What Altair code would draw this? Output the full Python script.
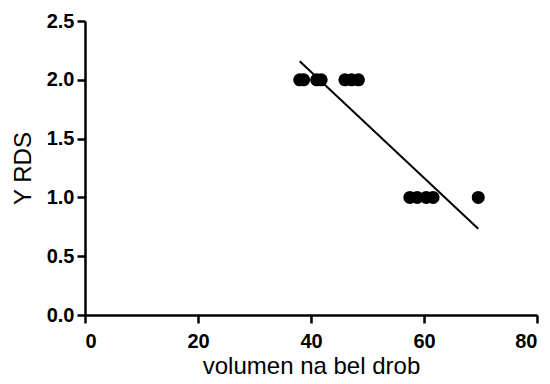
import altair as alt
import pandas as pd

x_vals = [38.0, 38.7, 41.0, 41.8, 46.0, 47.2, 48.4, 57.5, 58.8, 60.4, 61.6, 69.6]
y_vals = [2, 2, 2, 2, 2, 2, 2, 1, 1, 1, 1, 1]

df = pd.DataFrame({"x": x_vals, "y": y_vals})

font = "Liberation Sans"

xenc = alt.X("x:Q", title="volumen na bel drob",
             scale=alt.Scale(domain=[0, 80], nice=False, zero=False),
             axis=alt.Axis(values=[0, 20, 40, 60, 80], format="d", grid=False,
                           domainColor="black", domainWidth=2.5, tickColor="black",
                           tickWidth=2.5, tickSize=8, labelFontSize=20, labelFontWeight="bold",
                           labelColor="black", labelFont=font, labelPadding=8,
                           titleFont=font, titleFontSize=24, titleFontWeight="normal",
                           titleColor="black", titlePadding=3))
yenc = alt.Y("y:Q", title="Y RDS",
             scale=alt.Scale(domain=[0, 2.5], nice=False, zero=False),
             axis=alt.Axis(values=[0, 0.5, 1.0, 1.5, 2.0, 2.5], format=".1f", grid=False,
                           domainColor="black", domainWidth=2.5, tickColor="black",
                           tickWidth=2.5, tickSize=8, labelFontSize=20, labelFontWeight="bold",
                           labelColor="black", labelFont=font, labelPadding=3,
                           titleFont=font, titleFontSize=24, titleFontWeight="normal",
                           titleColor="black", titlePadding=11))

points = alt.Chart(df).mark_circle(size=170, color="black", opacity=1).encode(x=xenc, y=yenc)
line = alt.Chart(df).transform_regression("x", "y").mark_line(color="black", strokeWidth=2).encode(x=xenc, y=yenc)

chart = alt.layer(points, line).properties(
    width=452, height=294,
    autosize=alt.AutoSizeParams(type="none"),
    padding={"left": 77, "top": 13, "right": 5, "bottom": 68},
).configure_view(stroke=None)

chart.save("out.html", embed_options={"renderer": "svg", "actions": False})
